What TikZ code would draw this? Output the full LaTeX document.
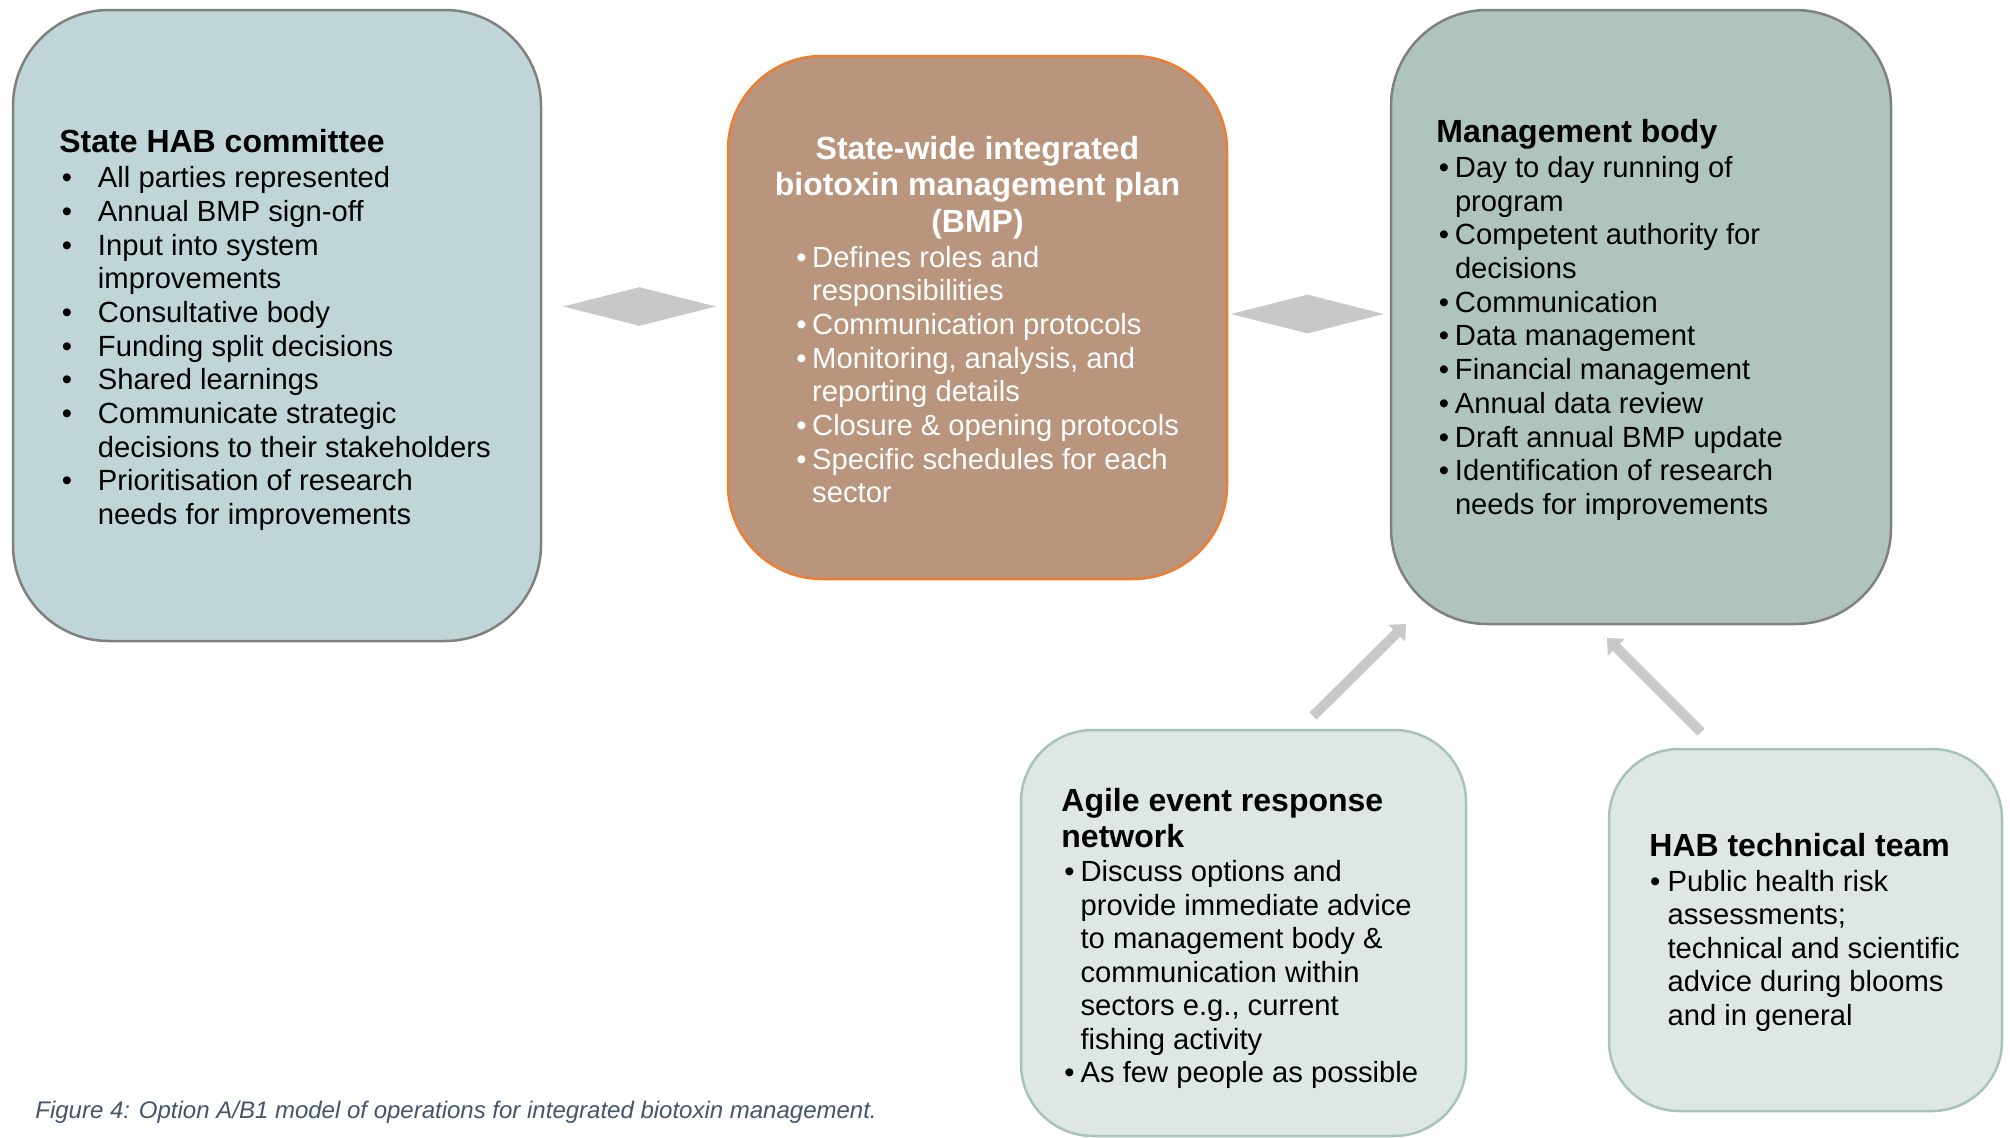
\documentclass[tikz,border=0pt]{standalone}
\usepackage{fontspec}
\setmainfont{Liberation Sans}
\usetikzlibrary{shapes.geometric,arrows.meta}
\definecolor{habfill}{RGB}{191,213,216}
\definecolor{bmpfill}{RGB}{185,149,125}
\definecolor{mgmtfill}{RGB}{175,196,189}
\definecolor{lightfill}{RGB}{222,231,228}
\definecolor{lightborder}{RGB}{168,195,185}
\definecolor{greyborder}{RGB}{128,128,128}
\definecolor{bmporange}{RGB}{237,125,49}
\definecolor{arrowgrey}{RGB}{200,200,200}
\definecolor{captioncol}{RGB}{68,84,106}
\newlength\bind
\newlength\boff
\newcommand\titlefont{\fontsize{16}{18}\bfseries}
\newcommand\bodyfont{\fontsize{14.6}{16.85}\selectfont}
\newcommand\bitem[1]{\par\hangindent=\bind\hangafter=1\noindent\makebox[\bind][l]{\hspace{\boff}•}#1}
\tikzset{
  boxshape/.style={draw, line width=1.25pt, inner sep=0pt},
  txtblock/.style={inner sep=0pt, anchor=base west},
  linkdiamond/.style={diamond, fill=arrowgrey, inner sep=0pt, minimum width=76.5pt, minimum height=19.5pt},
  bigarrow/.style={line width=5pt, draw=arrowgrey, -{Triangle[width=11.5pt,length=6.5pt]}},
}
\begin{document}
\begin{tikzpicture}[x=0.5pt,y=-0.5pt]
\useasboundingbox (0,0) rectangle (2010,1137);
\clip (0,0) rectangle (2010,1137);

% boxes
\node[boxshape, fill=habfill, draw=greyborder, rounded corners=48pt,
      minimum width=264pt, minimum height=315.5pt] (hab) at (277,325.5) {};
\node[boxshape, fill=bmpfill, draw=bmporange, rounded corners=47pt,
      minimum width=249.5pt, minimum height=261.5pt] (bmp) at (977.5,317.5) {};
\node[boxshape, fill=mgmtfill, draw=greyborder, rounded corners=48pt,
      minimum width=250pt, minimum height=307pt] (mgmt) at (1641,317) {};
\node[boxshape, fill=lightfill, draw=lightborder, rounded corners=36pt,
      minimum width=222.5pt, minimum height=203pt] (agile) at (1243.5,933) {};
\node[boxshape, fill=lightfill, draw=lightborder, rounded corners=35pt,
      minimum width=196.5pt, minimum height=181pt] (tech) at (1805.5,930) {};

% double-headed links
\node[linkdiamond] (dl) at (639.5,306.5) {};
\node[linkdiamond] (dr) at (1307.5,314) {};

% arrows
\coordinate (a1s) at (1313,716);
\coordinate (a1e) at (1406,624);
\coordinate (a2s) at (1701,732);
\coordinate (a2e) at (1607,638);
\draw[bigarrow] (a1s) -- (a1e);
\draw[bigarrow] (a2s) -- (a2e);

% texts
\node[txtblock] (habtxt) at (59,152.5) {\begin{minipage}[t]{260pt}\raggedright
{\titlefont State HAB committee\par}\vspace{0.7pt}\bodyfont
\setlength\bind{19.3pt}\setlength\boff{1.2pt}%
\bitem{All parties represented}
\bitem{Annual BMP sign-off}
\bitem{Input into system\newline improvements}
\bitem{Consultative body}
\bitem{Funding split decisions}
\bitem{Shared learnings}
\bitem{Communicate strategic\newline decisions to their stakeholders}
\bitem{Prioritisation of research\newline needs for improvements}
\end{minipage}};

\node[inner sep=0pt, anchor=base, text=white] (bmptitle) at (977.5,159) {\begin{minipage}[t]{300pt}\centering
\fontsize{16}{18.25}\bfseries State-wide integrated\\ biotoxin management plan\\ (BMP)
\end{minipage}};
\node[txtblock, text=white] (bmptxt) at (796,267) {\begin{minipage}[t]{240pt}\raggedright\bodyfont
\setlength\bind{7.9pt}\setlength\boff{0pt}%
\noindent\makebox[\bind][l]{•}\hangindent=\bind\hangafter=1 Defines roles and\newline responsibilities
\bitem{Communication protocols}
\bitem{Monitoring, analysis, and\newline reporting details}
\bitem{Closure \& opening protocols}
\bitem{Specific schedules for each\newline sector}
\end{minipage}};

\node[txtblock] (mgmttxt) at (1436,142.5) {\begin{minipage}[t]{240pt}\raggedright
{\titlefont Management body\par}\vspace{0.6pt}\bodyfont
\setlength\bind{9.3pt}\setlength\boff{1.2pt}%
\bitem{Day to day running of\newline program}
\bitem{Competent authority for\newline decisions}
\bitem{Communication}
\bitem{Data management}
\bitem{Financial management}
\bitem{Annual data review}
\bitem{Draft annual BMP update}
\bitem{Identification of research\newline needs for improvements}
\end{minipage}};

\node[txtblock] (agiletxt) at (1061,811) {\begin{minipage}[t]{230pt}\raggedright
{\titlefont Agile event response\\ network\par}\vspace{0.6pt}\fontsize{14.6}{16.75}\selectfont
\setlength\bind{9.6pt}\setlength\boff{1.5pt}%
\bitem{Discuss options and\newline provide immediate advice\newline to management body \&\newline communication within\newline sectors e.g., current\newline fishing activity}
\bitem{As few people as possible}
\end{minipage}};

\node[txtblock] (techtxt) at (1649,856.5) {\begin{minipage}[t]{200pt}\raggedright
{\titlefont HAB technical team\par}\vspace{0.6pt}\fontsize{14.6}{16.75}\selectfont
\setlength\bind{9.1pt}\setlength\boff{0.3pt}%
\bitem{Public health risk\newline assessments;\newline technical and scientific\newline advice during blooms\newline and in general}
\end{minipage}};

\node[inner sep=0pt, anchor=base west, text=captioncol, font=\fontsize{12}{14}\selectfont\itshape] (caption) at (35,1118.5)
  {Figure 4: Option A/B1 model of operations for integrated biotoxin management.};
\end{tikzpicture}
\end{document}
